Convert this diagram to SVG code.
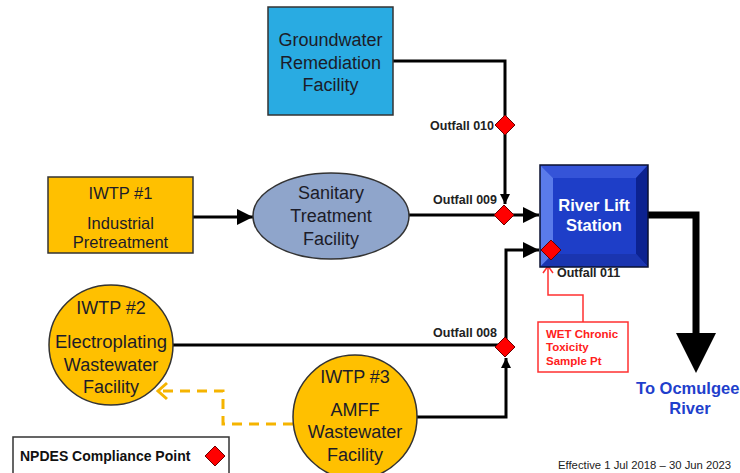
<svg xmlns="http://www.w3.org/2000/svg" width="740" height="473" viewBox="0 0 740 473">
  <style>
    .lbl { font-family: "Liberation Sans", Arial, sans-serif; fill: #1c1c28; text-anchor: middle; }
    .node { font-size: 18px; }
    .out { font-family: "Liberation Sans", Arial, sans-serif; font-weight: bold; font-size: 12.5px; fill: #222; }
    .conn { fill: none; stroke: #000; stroke-width: 3; }
    .cp { fill: #ff0000; stroke: #6a0000; stroke-width: 1; }
    .yel { fill: #ffc000; stroke: #333; stroke-width: 1.5; }
  </style>
  <defs>
    <marker id="bigArrow" markerUnits="userSpaceOnUse" markerWidth="17" markerHeight="17" refX="16" refY="8" orient="auto">
      <path d="M0,0 L16,8 L0,16 z" fill="#000"/>
    </marker>
    <marker id="smallArrow" markerUnits="userSpaceOnUse" markerWidth="11" markerHeight="11" refX="10" refY="5" orient="auto">
      <path d="M0,0 L10,5 L0,10 z" fill="#000"/>
    </marker>
    <path id="diamond" d="M0,-10 L10,0 L0,10 L-10,0 z"/>
  </defs>

  <rect width="740" height="473" fill="#fff"/>

  <!-- connectors -->
  <g id="connectors">
    <path class="conn" d="M393,61 H505 V204" marker-end="url(#smallArrow)"/>
    <path class="conn" d="M193,217 H253" marker-end="url(#bigArrow)"/>
    <path class="conn" d="M409,215 H539" marker-end="url(#bigArrow)"/>
    <path class="conn" d="M173,345 H505"/>
    <path class="conn" d="M506,347 V250 H539" marker-end="url(#bigArrow)"/>
    <path class="conn" d="M417,417 H506 V358" marker-end="url(#smallArrow)"/>
    <!-- discharge to river -->
    <path d="M647,215 H696 V336" fill="none" stroke="#000" stroke-width="7"/>
    <polygon points="676,333 716,333 696,373" fill="#000"/>
    <!-- sample point pointer -->
    <path d="M583,322 V295 H548 V267" fill="none" stroke="#ff3030" stroke-width="1.5"/>
    <path d="M543,273 L548,266 L553,273" fill="none" stroke="#ff3030" stroke-width="1.5"/>
    <!-- return flow -->
    <path d="M293,424 H223 V391 H158" fill="none" stroke="#f5b400" stroke-width="3" stroke-dasharray="10,7"/>
    <path d="M167,383 L158,391 L167,399" fill="none" stroke="#f5b400" stroke-width="3"/>
  </g>

  <g id="groundwater">
    <rect x="268" y="7" width="125" height="108" fill="#29abe2" stroke="#333" stroke-width="1.5"/>
    <text class="lbl node" x="330.5" y="46">Groundwater</text>
    <text class="lbl node" x="330.5" y="69">Remediation</text>
    <text class="lbl node" x="330.5" y="91">Facility</text>
  </g>

  <g id="iwtp1">
    <rect class="yel" x="48" y="177" width="145" height="76"/>
    <text class="lbl" font-size="16.5" x="120.5" y="199">IWTP #1</text>
    <text class="lbl" font-size="16.5" x="120.5" y="229">Industrial</text>
    <text class="lbl" font-size="16.5" x="120.5" y="248">Pretreatment</text>
  </g>

  <g id="sanitary">
    <ellipse cx="331" cy="216" rx="78" ry="43" fill="#8fa5cb" stroke="#333" stroke-width="1.5"/>
    <text class="lbl node" x="331" y="199">Sanitary</text>
    <text class="lbl node" x="331" y="222">Treatment</text>
    <text class="lbl node" x="331" y="245">Facility</text>
  </g>

  <g id="iwtp2">
    <ellipse class="yel" cx="111" cy="345" rx="62" ry="60"/>
    <text class="lbl node" x="111" y="314">IWTP #2</text>
    <text class="lbl" font-size="18.5" x="111" y="348">Electroplating</text>
    <text class="lbl node" x="111" y="371">Wastewater</text>
    <text class="lbl node" x="111" y="393">Facility</text>
  </g>

  <g id="iwtp3">
    <ellipse class="yel" cx="355" cy="417" rx="62" ry="62"/>
    <text class="lbl node" x="355" y="383">IWTP #3</text>
    <text class="lbl node" x="355" y="416">AMFF</text>
    <text class="lbl node" x="355" y="438">Wastewater</text>
    <text class="lbl node" x="355" y="461">Facility</text>
  </g>

  <g id="river-lift-station">
    <rect x="540" y="165" width="108" height="102" fill="#1e3ec8"/>
    <polygon points="540,165 648,165 636,178 553,178" fill="#3554d8"/>
    <polygon points="540,165 553,178 553,254 540,267" fill="#5a7bea"/>
    <polygon points="648,165 648,267 636,254 636,178" fill="#0c2290"/>
    <polygon points="540,267 648,267 636,254 553,254" fill="#1a35b0"/>
    <rect x="540" y="165" width="108" height="102" fill="none" stroke="#0a1030" stroke-width="1.5"/>
    <text class="lbl" font-size="16.5" font-weight="bold" fill="#fff" style="fill:#fff" x="594" y="211">River Lift</text>
    <text class="lbl" font-size="16.5" font-weight="bold" style="fill:#fff" x="594" y="231">Station</text>
  </g>

  <g id="compliance-points">
    <use href="#diamond" class="cp" x="505" y="125"/>
    <use href="#diamond" class="cp" x="504" y="215"/>
    <use href="#diamond" class="cp" x="505" y="347"/>
    <use href="#diamond" class="cp" x="551" y="250"/>
    <text class="out" x="494" y="129.5" text-anchor="end">Outfall 010</text>
    <text class="out" x="497" y="203.5" text-anchor="end">Outfall 009</text>
    <text class="out" x="497" y="336.5" text-anchor="end">Outfall 008</text>
    <text class="out" x="557" y="276.5">Outfall 011</text>
  </g>

  <g id="wet-sample">
    <rect x="538" y="322" width="90" height="50" fill="#fff" stroke="#ff3030" stroke-width="1.5"/>
    <text font-family="Liberation Sans, Arial, sans-serif" font-weight="bold" font-size="11.5" fill="#ff2020">
      <tspan x="546" y="338">WET Chronic</tspan>
      <tspan x="546" y="351">Toxicity</tspan>
      <tspan x="546" y="365">Sample Pt</tspan>
    </text>
  </g>

  <g id="river">
    <text font-family="Liberation Sans, Arial, sans-serif" font-weight="bold" font-size="16.5" fill="#1f3fcc" text-anchor="middle">
      <tspan x="690" y="394">To Ocmulgee</tspan>
      <tspan x="690" y="414">River</tspan>
    </text>
  </g>

  <g id="legend">
    <rect x="13" y="437" width="216" height="42" fill="#fff" stroke="#333" stroke-width="1.5"/>
    <text x="20" y="461" font-family="Liberation Sans, Arial, sans-serif" font-weight="bold" font-size="14" fill="#111">NPDES Compliance Point</text>
    <use href="#diamond" class="cp" x="215" y="456"/>
  </g>

  <text x="558" y="469" font-family="Liberation Sans, Arial, sans-serif" font-size="11.3" fill="#222">Effective 1 Jul 2018 – 30 Jun 2023</text>
</svg>
